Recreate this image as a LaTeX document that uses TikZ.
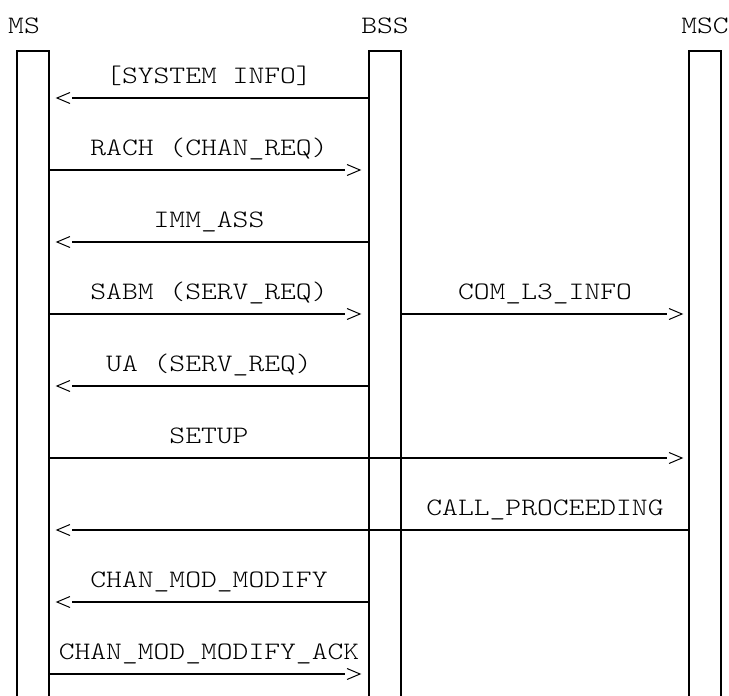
\documentclass[tikz,border=0pt]{standalone}
\usepackage{fontspec}
\setmonofont{lmmonolt10-regular.otf}[FakeStretch=1.2]
\newcommand\msgarrow[3]{%
  \draw[msgline, shorten >=15pt] (#1) -- (#2);
  \draw[chev] (#2) ++({#3*13},-5.5) -- (#2) -- ++({#3*13},5.5);}
\begin{document}
\begin{tikzpicture}[x=1pt,y=-1pt,
  lbl/.style={font=\ttfamily\fontsize{25.1}{30}\selectfont, inner sep=0pt, anchor=base},
  life/.style={line width=1.5pt},
  lifetop/.style={line width=2.4pt},
  msgline/.style={line width=2pt},
  chev/.style={line width=1pt, line join=miter}]
\useasboundingbox (0,0) rectangle (729,696);
% lifeline names
\node[lbl] (msname) at (24,34) {MS};
\node[lbl] (bssname) at (385,34) {BSS};
\node[lbl] (mscname) at (705,34) {MSC};
% lifeline boxes
\foreach \l/\r in {17/49, 369/401, 689/721}{
  \draw[life] (\l,696) -- (\l,51);
  \draw[life] (\r,696) -- (\r,51);
  \draw[lifetop] (\l-0.75,51) -- (\r+0.75,51);
}
% message end points
\coordinate (s1) at (369,98);  \coordinate (t1) at (57,98);
\coordinate (s2) at (49,170);  \coordinate (t2) at (360,170);
\coordinate (s3) at (369,242); \coordinate (t3) at (57,242);
\coordinate (s4) at (49,314);  \coordinate (t4) at (360,314);
\coordinate (s4b) at (401,314); \coordinate (t4b) at (682,314);
\coordinate (s5) at (369,386); \coordinate (t5) at (57,386);
\coordinate (s6) at (49,458);  \coordinate (t6) at (682,458);
\coordinate (s7) at (689,530); \coordinate (t7) at (57,530);
\coordinate (s8) at (369,602); \coordinate (t8) at (57,602);
\coordinate (s9) at (49,674);  \coordinate (t9) at (360,674);
% messages
\msgarrow{s1}{t1}{1}
\msgarrow{s2}{t2}{-1}
\msgarrow{s3}{t3}{1}
\msgarrow{s4}{t4}{-1}
\msgarrow{s4b}{t4b}{-1}
\msgarrow{s5}{t5}{1}
\msgarrow{s6}{t6}{-1}
\msgarrow{s7}{t7}{1}
\msgarrow{s8}{t8}{1}
\msgarrow{s9}{t9}{-1}
\draw[msgline] (689,522) -- (689,538);
% labels
\node[lbl] (l1) at (209,83) {[SYSTEM INFO]};
\node[lbl] (l2) at (209,155) {RACH (CHAN\_REQ)};
\node[lbl] (l3) at (209,227) {IMM\_ASS};
\node[lbl] (l4) at (209,299) {SABM (SERV\_REQ)};
\node[lbl] (l4b) at (545,299) {COM\_L3\_INFO};
\node[lbl] (l5) at (209,371) {UA (SERV\_REQ)};
\node[lbl] (l6) at (209,443) {SETUP};
\node[lbl] (l7) at (545,515) {CALL\_PROCEEDING};
\node[lbl] (l8) at (209,587) {CHAN\_MOD\_MODIFY};
\node[lbl] (l9) at (209,659) {CHAN\_MOD\_MODIFY\_ACK};
\end{tikzpicture}
\end{document}
